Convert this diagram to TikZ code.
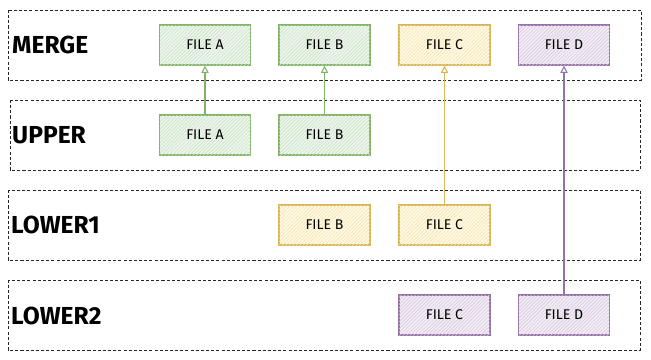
\documentclass[tikz,border=0pt]{standalone}
\usepackage{fontspec}
\setmainfont{Fira Sans}
\definecolor{fgreen}{HTML}{82B366}
\definecolor{fgreenbg}{HTML}{D5E8D4}
\definecolor{fyellow}{HTML}{D6B656}
\definecolor{fyellowbg}{HTML}{FFF2CC}
\definecolor{fpurple}{HTML}{9673A6}
\definecolor{fpurplebg}{HTML}{E1D5E7}
\usetikzlibrary{arrows.meta,patterns}

\begin{document}
\begin{tikzpicture}[x=0.03cm,y=-0.03cm,
  band/.style={draw=black!85,dash pattern=on 2.6pt off 1.8pt,line width=0.8pt},
  tier/.style={anchor=west,inner sep=0pt,font=\fontsize{21}{24}\selectfont\bfseries},
  filebox/.style={minimum width=2.73cm,minimum height=1.2cm,inner sep=0pt,
    line width=1pt,font=\fontsize{12}{14}\selectfont},
  greenfile/.style={filebox,draw=fgreen,fill=fgreenbg!45,
    postaction={pattern=north east lines,pattern color=fgreenbg!85!fgreen}},
  yellowfile/.style={filebox,draw=fyellow,fill=fyellowbg!55,
    postaction={pattern=north east lines,pattern color=fyellowbg!75!fyellow}},
  purplefile/.style={filebox,draw=fpurple,fill=fpurplebg!45,
    postaction={pattern=north east lines,pattern color=fpurplebg!85!fpurple}},
  arr/.style={-{Triangle[open,length=2.2mm,width=2.2mm]},line width=0.9pt}]
  \useasboundingbox (0,0) rectangle (651,359);
  \draw[band] (8,10) rectangle (641,80);
  \draw[band] (10,100) rectangle (640,170);
  \draw[band] (8,190) rectangle (640,260);
  \draw[band] (8,280) rectangle (640,350);
  \node[tier] (merge) at (12,45) {MERGE};
  \node[tier] (upper) at (12,135) {UPPER};
  \node[tier] (lower1) at (11,225) {LOWER1};
  \node[tier] (lower2) at (11,316) {LOWER2};
  \node[greenfile] (mA) at (205,45) {FILE A};
  \node[greenfile] (mB) at (324.5,45) {FILE B};
  \node[yellowfile] (mC) at (444.5,45) {FILE C};
  \node[purplefile] (mD) at (564,45) {FILE D};
  \node[greenfile] (uA) at (205,135) {FILE A};
  \node[greenfile] (uB) at (324.5,135) {FILE B};
  \node[yellowfile] (lB) at (324.5,225) {FILE B};
  \node[yellowfile] (lC) at (444.5,225) {FILE C};
  \node[purplefile] (wC) at (444.5,315) {FILE C};
  \node[purplefile] (wD) at (564,315) {FILE D};
  \draw[arr,fgreen] (uA) -- (mA);
  \draw[arr,fgreen] (uB) -- (mB);
  \draw[arr,fyellow] (lC) -- (mC);
  \draw[arr,fpurple] (wD) -- (mD);
\end{tikzpicture}
\end{document}
